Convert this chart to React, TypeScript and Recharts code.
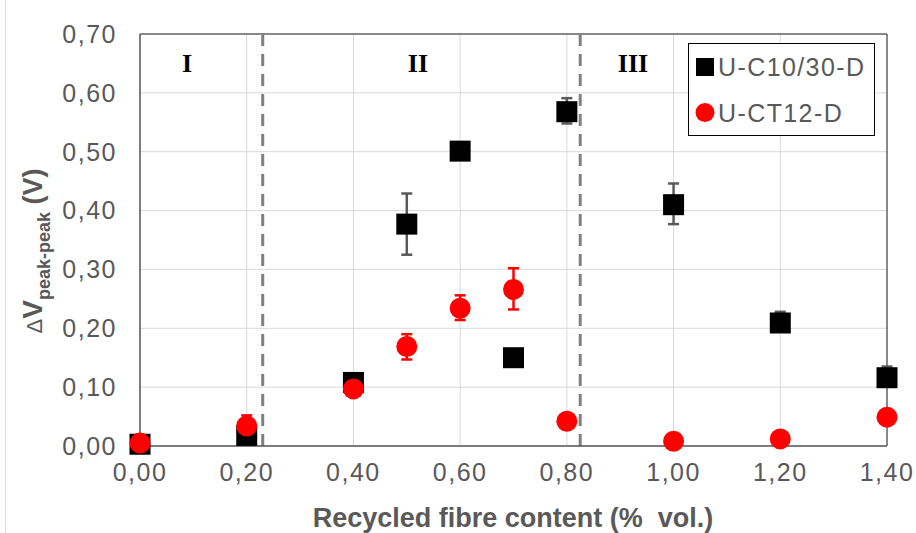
import React from "react";
import {
  CartesianGrid,
  ErrorBar,
  Legend,
  ReferenceDot,
  ReferenceLine,
  Scatter,
  ScatterChart,
  XAxis,
  YAxis,
} from "recharts";

const fibreContent = [0, 0.2, 0.4, 0.5, 0.6, 0.7, 0.8, 1.0, 1.2, 1.4];

const c1030Values = [0.003, 0.018, 0.108, 0.377, 0.501, 0.15, 0.568, 0.41, 0.209, 0.116];
const c1030ErrLow = [0, 0, 0, 0.052, 0, 0, 0.02, 0.033, 0.01, 0.01];
const c1030ErrHigh = [0, 0, 0, 0.052, 0, 0, 0.023, 0.036, 0.019, 0.019];

const ct12Values = [0.005, 0.034, 0.097, 0.169, 0.234, 0.266, 0.042, 0.008, 0.012, 0.049];
const ct12ErrLow = [0, 0.015, 0, 0.022, 0.02, 0.034, 0, 0, 0, 0];
const ct12ErrHigh = [0, 0.018, 0, 0.021, 0.022, 0.036, 0, 0, 0, 0];

const xTicks = [0, 0.2, 0.4, 0.6, 0.8, 1.0, 1.2, 1.4];
const yTicks = [0, 0.1, 0.2, 0.3, 0.4, 0.5, 0.6, 0.7];

const regionBounds = [0.23, 0.825];
const regionNames = ["I", "II", "III"];
const regionCentres = [0.088, 0.521, 0.924];
const regionLabelLevel = 0.65;

const seriesNames = ["U-C10/30-D", "U-CT12-D"];

const SANS = "'Liberation Sans', Arial, sans-serif";
const SERIF = "'Liberation Serif', 'Times New Roman', serif";
const GREY = "#595959";

const c1030Data = fibreContent.map((x, i) => ({
  x,
  y: c1030Values[i],
  err: [c1030ErrLow[i], c1030ErrHigh[i]],
}));

const ct12Data = fibreContent.map((x, i) => ({
  x,
  y: ct12Values[i],
  err: [ct12ErrLow[i], ct12ErrHigh[i]],
}));

const formatComma = (v: number) => v.toFixed(2).replace(".", ",");

function SquareMark(props: any) {
  const { cx, cy } = props;
  if (cx == null || cy == null) return null;
  return <rect x={cx - 10.5} y={cy - 10.5} width={21} height={21} fill="#000000" />;
}

function RoundMark(props: any) {
  const { cx, cy } = props;
  if (cx == null || cy == null) return null;
  return <circle cx={cx} cy={cy} r={10.5} fill="#ff0000" />;
}

function YLabel() {
  return (
    <text
      x={42}
      y={251}
      transform="rotate(-90 42 251)"
      textAnchor="middle"
      fill={GREY}
      fontFamily={SANS}
    >
      <tspan fontSize={22}>Δ</tspan>
      <tspan fontSize={28} fontWeight="bold">V</tspan>
      <tspan fontSize={18} fontWeight="bold" dy={8}>peak-peak</tspan>
      <tspan fontSize={27} fontWeight="bold" dy={-8}> (V)</tspan>
    </text>
  );
}

function XLabel() {
  return (
    <text
      x={513}
      y={527}
      textAnchor="middle"
      fontSize={27}
      fontWeight="bold"
      fontFamily={SANS}
      fill={GREY}
      style={{ whiteSpace: "pre" }}
    >
      Recycled fibre content (%  vol.)
    </text>
  );
}

function LegendBox() {
  return (
    <svg width={187} height={93} style={{ display: "block" }}>
      <rect x={0.5} y={0.5} width={186} height={92} fill="#ffffff" stroke="#000000" strokeWidth={1} />
      <rect x={8} y={15} width={18} height={18} fill="#000000" />
      <text x={30} y={33} fontSize={25} fontFamily={SANS} fill={GREY} letterSpacing={1.4}>
        {seriesNames[0]}
      </text>
      <circle cx={17} cy={69.5} r={9.5} fill="#ff0000" />
      <text x={30} y={79} fontSize={25} fontFamily={SANS} fill={GREY} letterSpacing={1.4}>
        {seriesNames[1]}
      </text>
    </svg>
  );
}

export default function App() {
  return (
    <div style={{ position: "absolute", left: 0, top: 0, width: 916, height: 533, background: "#ffffff" }}>
      <div style={{ position: "absolute", left: 5, top: 0, width: 1, height: 533, background: "#d9d9d9" }} />
      <ScatterChart
        width={916}
        height={533}
        margin={{ top: 34, right: 29, left: 0, bottom: 0 }}
      >
        <CartesianGrid stroke="#d9d9d9" strokeWidth={1} />
        <XAxis
          type="number"
          dataKey="x"
          domain={[0, 1.4]}
          ticks={xTicks}
          tickFormatter={formatComma}
          height={87}
          tickLine={false}
          tickSize={0}
          tickMargin={17}
          axisLine={{ stroke: GREY, strokeWidth: 1.5 }}
          tick={{ fill: GREY, fontSize: 25, fontFamily: SANS, letterSpacing: 1.5 }}
          label={<XLabel />}
        />
        <YAxis
          type="number"
          dataKey="y"
          domain={[0, 0.7]}
          ticks={yTicks}
          tickFormatter={formatComma}
          width={140}
          tickLine={false}
          tickSize={0}
          tickMargin={23}
          axisLine={{ stroke: GREY, strokeWidth: 1.5 }}
          tick={{ fill: GREY, fontSize: 25, fontFamily: SANS, letterSpacing: 1.5 }}
          label={<YLabel />}
        />
        <ReferenceLine y={0.7} stroke="#262626" strokeWidth={1} />
        <ReferenceLine x={1.4} stroke="#262626" strokeWidth={1} />
        {regionBounds.map((b) => (
          <ReferenceLine
            key={b}
            x={b}
            stroke="#808080"
            strokeWidth={3}
            strokeDasharray="12 8"
          />
        ))}
        {regionNames.map((name, i) => (
          <ReferenceDot
            key={name}
            x={regionCentres[i]}
            y={regionLabelLevel}
            r={0}
            shape={(p: any) => (
              <text
                x={p.cx}
                y={p.cy + 9}
                textAnchor="middle"
                fontSize={26}
                fontWeight="bold"
                fontFamily={SERIF}
                fill="#000000"
              >
                {name}
              </text>
            )}
          />
        ))}
        <Scatter
          name={seriesNames[0]}
          data={c1030Data}
          shape={<SquareMark />}
          isAnimationActive={false}
        >
          <ErrorBar dataKey="err" direction="y" width={5.5} stroke={GREY} strokeWidth={2.5} />
        </Scatter>
        <Scatter
          name={seriesNames[1]}
          data={ct12Data}
          shape={<RoundMark />}
          isAnimationActive={false}
        >
          <ErrorBar dataKey="err" direction="y" width={5.5} stroke="#ff0000" strokeWidth={2.5} />
        </Scatter>
        <Legend
          layout="vertical"
          align="center"
          verticalAlign="middle"
          content={<LegendBox />}
          wrapperStyle={{ position: "absolute", left: 688, top: 43, width: 187, height: 93 }}
        />
      </ScatterChart>
    </div>
  );
}
